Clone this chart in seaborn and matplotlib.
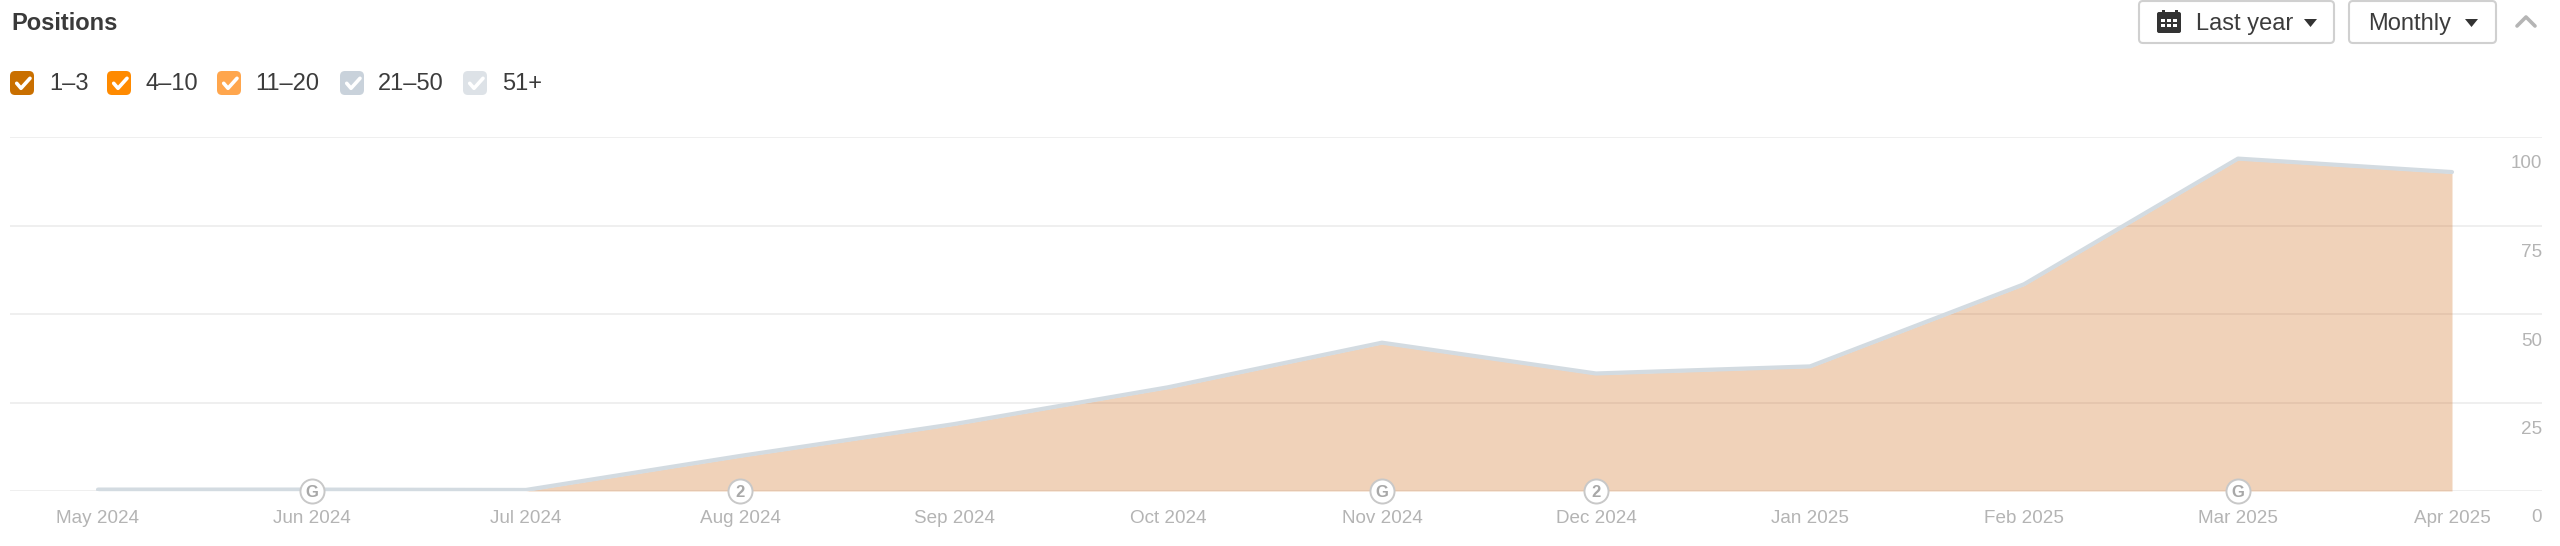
import matplotlib
matplotlib.use('Agg')
import matplotlib.pyplot as plt
from matplotlib.patches import FancyBboxPatch, Rectangle, Polygon
from matplotlib.transforms import ScaledTranslation
import numpy as np
import pandas as pd
import seaborn as sns

months = ['May 2024', 'Jun 2024', 'Jul 2024', 'Aug 2024', 'Sep 2024', 'Oct 2024',
          'Nov 2024', 'Dec 2024', 'Jan 2025', 'Feb 2025', 'Mar 2025', 'Apr 2025']
pos_1_3 = [0, 0, 0, 9.6, 18.6, 29, 41.6, 32.9, 34.9, 58.1, 93.6, 89.8]
pos_4_10 = [0, 0, 0, 0, 0, 0, 0, 0, 0, 0, 0, 0]
pos_11_20 = [0, 0, 0, 0, 0, 0, 0, 0, 0, 0, 0, 0]
pos_21_50 = [0.3, 0.3, 0.2, 0.2, 0.2, 0.2, 0.2, 0.2, 0.2, 0.2, 0.2, 0.2]
pos_51 = [0.1, 0.1, 0.1, 0.1, 0.1, 0.1, 0.1, 0.1, 0.1, 0.1, 0.1, 0.1]
legend_labels = ['1–3', '4–10', '11–20', '21–50', '51+']
legend_colors = ['#c96f00', '#ff8a00', '#ffa64d', '#c9d2db', '#dde2e7']
area_colors = ['#cf6a18', '#ff8a00', '#ffa64d', '#c9d2db', '#dde2e7']
y_ticks = [0, 25, 50, 75, 100]
event_months = ['Jun 2024', 'Aug 2024', 'Nov 2024', 'Dec 2024', 'Mar 2025']
event_labels = ['G', '2', 'G', '2', 'G']

W, H = 2560, 546
sns.set_theme(style='white')
plt.rcParams['font.family'] = ['Liberation Sans', 'DejaVu Sans']

fig = plt.figure(figsize=(W / 100, H / 100), dpi=100)
ax = fig.add_axes([10 / W, 1 - 491 / H, 2532 / W, 354 / H])

df = pd.DataFrame({'month': months, '1-3': pos_1_3, '4-10': pos_4_10, '11-20': pos_11_20,
                   '21-50': pos_21_50, '51+': pos_51})
df['idx'] = np.arange(len(df))
df['total'] = df[['1-3', '4-10', '11-20', '21-50', '51+']].sum(axis=1)

# grid first, the area is translucent so it shows through
ax.set_axisbelow(True)
ax.grid(axis='y', color='#efefef', lw=1.4)
ax.grid(axis='x', visible=False)
ax.stackplot(df['idx'], df['1-3'], df['4-10'], df['11-20'], df['21-50'], df['51+'],
             colors=area_colors, alpha=0.3, lw=0)
sns.lineplot(data=df, x='idx', y='total', color='#d3dbe1', lw=3, ax=ax, legend=False, zorder=3)

ax.set_xlim(-88 / 214, 2444 / 214)
ax.set_ylim(0, 100)
ax.set_xlabel('')
ax.set_ylabel('')
ax.set_xticks(df['idx'], months)
ax.set_yticks(y_ticks)
ax.yaxis.tick_right()
ax.tick_params(axis='x', length=0, pad=14, labelsize=13.6, labelcolor='#b4b4b4')
ax.tick_params(axis='y', length=0, pad=0, labelsize=13.6, labelcolor='#b4b4b4')
shift = ScaledTranslation(0, -27 / 100, fig.dpi_scale_trans)
for lab in ax.get_yticklabels():
    lab.set_ha('right')
    lab.set_va('center')
    lab.set_transform(lab.get_transform() + shift)
sns.despine(ax=ax, left=True, right=True, top=True, bottom=True)

# update markers on the baseline
event_x = [months.index(m) for m in event_months]
sns.scatterplot(x=event_x, y=[0] * len(event_x), s=300, color='white', edgecolor='#c8c8c8',
                linewidth=1.4, ax=ax, clip_on=False, zorder=5, legend=False)
for x, lab in zip(event_x, event_labels):
    ax.text(x, 0, lab, ha='center', va='center_baseline', fontsize=12, fontweight='bold',
            color='#a8a8a8', zorder=6, clip_on=False)

# page furniture in pixel coordinates
ui = fig.add_axes([0, 0, 1, 1])
ui.set_xlim(0, W)
ui.set_ylim(H, 0)
ui.axis('off')
ui.patch.set_alpha(0)

ui.text(11, 24, 'Positions', fontsize=17, fontweight='bold', color='#3a3a3a', va='center')

box_x = [10, 107, 217, 340, 463]
text_x = [49, 145, 255, 378, 502]
for bx, tx, lab, col in zip(box_x, text_x, legend_labels, legend_colors):
    ui.add_patch(FancyBboxPatch((bx + 4, 75), 16, 16, boxstyle='round,pad=4,rounding_size=5',
                                fc=col, ec='none'))
    ui.plot([bx + 6.7, bx + 11, bx + 20], [83.3, 88.3, 78.3], color='white', lw=2.6,
            solid_capstyle='round', solid_joinstyle='round')
    ui.text(tx, 84, lab, fontsize=17, color='#3c3c3c', va='center')

for x0, x1 in [(2139, 2334), (2349, 2496)]:
    ui.add_patch(FancyBboxPatch((x0 + 4, 5), x1 - x0 - 8, 34, boxstyle='round,pad=4,rounding_size=4',
                                fc='white', ec='#d0d0d0', lw=1.5))
ui.text(2196, 24, 'Last year', fontsize=17, color='#3c3c3c', va='center')
ui.text(2368, 24, 'Monthly', fontsize=17, color='#3c3c3c', va='center')
for tx in [2304, 2465]:
    ui.add_patch(Polygon([(tx, 19), (tx + 13, 19), (tx + 6.5, 27)], fc='#333333', ec='none'))

# calendar icon
ui.add_patch(FancyBboxPatch((2158, 13), 22, 19, boxstyle='round,pad=1,rounding_size=2', fc='#333333', ec='none'))
for px in [2162, 2175]:
    ui.add_patch(Rectangle((px, 10), 3, 4, fc='#333333', ec='none'))
for row in range(2):
    for col in range(3):
        ui.add_patch(Rectangle((2161 + col * 6, 19 + row * 5), 4, 3.4, fc='white', ec='none'))

ui.plot([2517, 2526, 2535], [26, 17, 26], color='#b5b5b5', lw=2.6, solid_capstyle='round')

fig.savefig('out.png', dpi=100)
